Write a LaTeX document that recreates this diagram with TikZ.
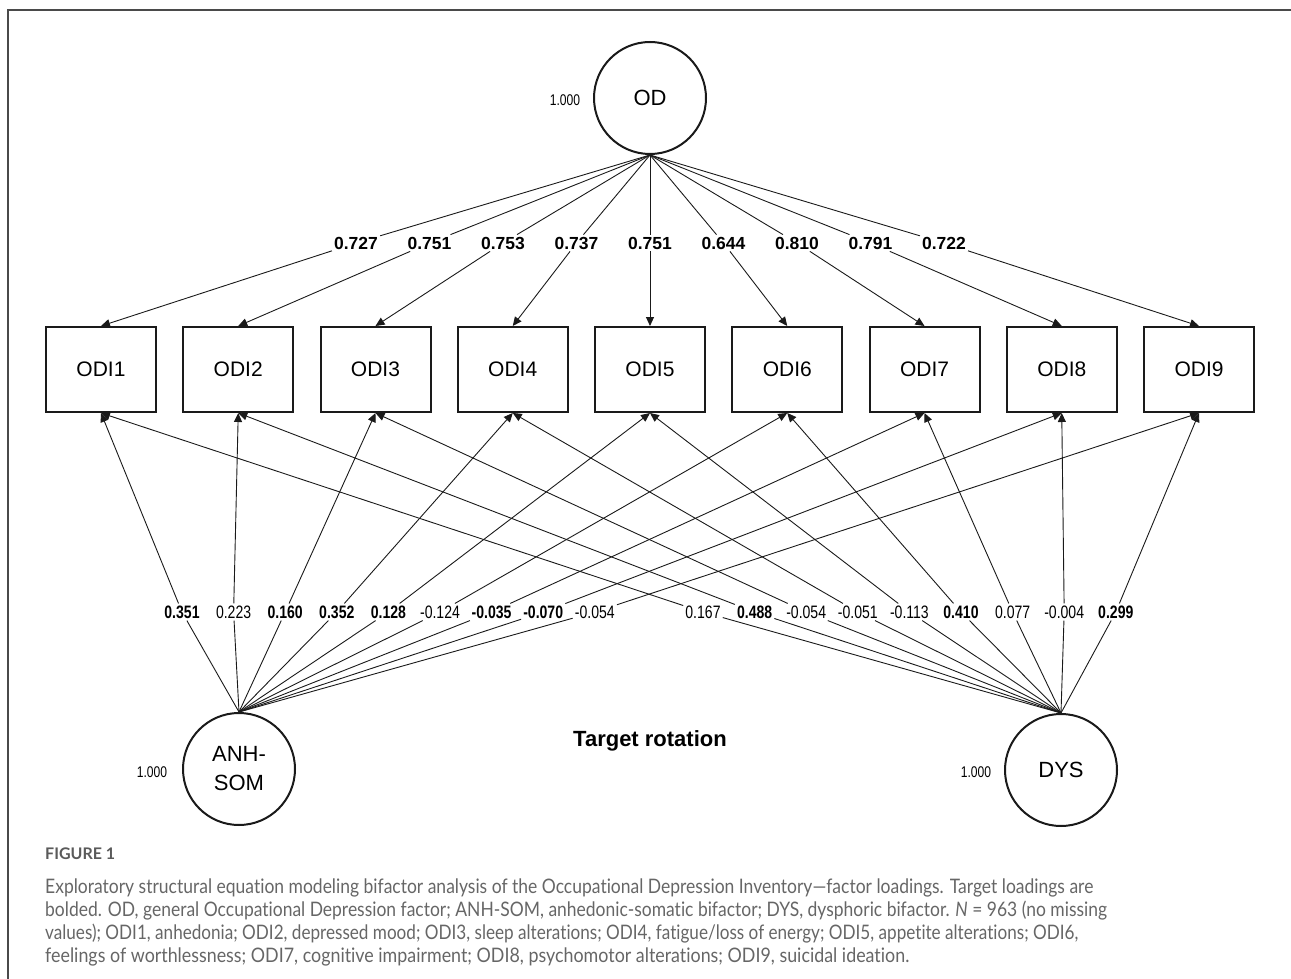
\documentclass[tikz,border=0pt]{standalone}
\usepackage{fontspec}
\setmainfont{Liberation Sans}
\newfontfamily\narrowfont{Liberation Sans}[FakeStretch=0.78]
\newfontfamily\capfont{Lato}[Ligatures=NoCommon]
\usetikzlibrary{arrows.meta}
\definecolor{capgray}{HTML}{666666}
\definecolor{figgray}{HTML}{5A5A5A}
\definecolor{framegray}{HTML}{4A4A4A}
\definecolor{ink}{HTML}{1A1A1A}
\newlength\capw
\newcommand\fitline[2]{\settowidth\capw{#2}\pgfmathsetmacro\capsc{#1/\capw}\scalebox{\capsc}[1]{#2}}
\begin{document}
\begin{tikzpicture}[x=1pt,y=-1pt,
  latent/.style={circle, draw=ink, line width=2pt, minimum size=112pt, inner sep=0pt, align=center, font=\fontsize{22}{29}\selectfont},
  obs/.style={rectangle, draw=ink, line width=2pt, minimum width=110pt, minimum height=85pt, font=\fontsize{21}{24}\selectfont},
  toplab/.style={inner sep=2pt, font=\fontsize{17.5}{20}\selectfont\bfseries},
  botlab/.style={inner sep=2pt, font=\narrowfont\fontsize{18}{20}\selectfont},
  varlab/.style={font=\narrowfont\fontsize{15.5}{17}\selectfont},
  conn/.style={draw=ink, line width=0.9pt},
  arr/.style={draw=ink, line width=0.9pt, -{Triangle[length=9pt,width=8pt]}},
  capline/.style={anchor=base west, inner sep=0pt, text=capgray, font=\capfont\fontsize{20}{22}\selectfont}
]
\useasboundingbox (0,0) rectangle (1291,979);
\draw[framegray, line width=1.6pt] (8,979) -- (8,10) -- (1291,10);

% latent factors
\node[latent] (OD) at (650,98) {OD};
\node[latent] (ANH) at (239,769) {ANH-\\SOM};
\node[latent] (DYS) at (1061,770) {DYS};
\node[varlab] (vOD) at (565,100) {1.000};
\node[varlab] (vANH) at (152,772) {1.000};
\node[varlab] (vDYS) at (976,772) {1.000};

% observed items
\foreach \i in {1,...,9}{
  \node[obs] (b\i) at ({101+137.25*(\i-1)},369.5) {ODI\i};
}

% general factor loadings
\foreach \v [count=\i] in {0.727,0.751,0.753,0.737,0.751,0.644,0.810,0.791,0.722}{
  \node[toplab] (t\i) at ({356+73.5*(\i-1)},243) {\v};
  \draw[conn] (OD.south) -- (t\i);
  \draw[arr] (t\i) -- (b\i.north);
}

% ANH-SOM loadings
\foreach \v/\bb [count=\i] in {0.351/1,0.223/0,0.160/1,0.352/1,0.128/1,-0.124/0,-0.035/1,-0.070/1,-0.054/0}{
  \node[botlab] (a\i) at ({182+51.6*(\i-1)},612) {\ifnum\bb=1\bfseries\fi\v};
  \draw[conn] (ANH.north) -- (a\i);
  \draw[arr] (a\i) -- (b\i.south);
}

% DYS loadings
\foreach \v/\bb [count=\i] in {0.167/0,0.488/1,-0.054/0,-0.051/0,-0.113/0,0.410/1,0.077/0,-0.004/0,0.299/1}{
  \node[botlab] (d\i) at ({703+51.6*(\i-1)},612) {\ifnum\bb=1\bfseries\fi\v};
  \draw[conn] (DYS.north) -- (d\i);
  \draw[arr] (d\i) -- (b\i.south);
}

\node[font=\fontsize{22}{24}\selectfont\bfseries] (title) at (650,741) {Target rotation};

% caption
\node[anchor=base west, inner sep=0pt, text=figgray, font=\capfont\bfseries\fontsize{16}{18}\selectfont] (fig) at (45,859) {FIGURE 1};
\node[capline] (c1) at (45,893) {\fitline{1048}{Exploratory structural equation modeling bifactor analysis of the Occupational Depression Inventory—factor loadings. Target loadings are}};
\node[capline] (c2) at (45,916) {\fitline{1062}{bolded. OD, general Occupational Depression factor; ANH-SOM, anhedonic-somatic bifactor; DYS, dysphoric bifactor. \textit{N} = 963 (no missing}};
\node[capline] (c3) at (45,939) {\fitline{1033}{values); ODI1, anhedonia; ODI2, depressed mood; ODI3, sleep alterations; ODI4, fatigue/loss of energy; ODI5, appetite alterations; ODI6,}};
\node[capline] (c4) at (45,962) {\fitline{864}{feelings of worthlessness; ODI7, cognitive impairment; ODI8, psychomotor alterations; ODI9, suicidal ideation.}};
\end{tikzpicture}
\end{document}
